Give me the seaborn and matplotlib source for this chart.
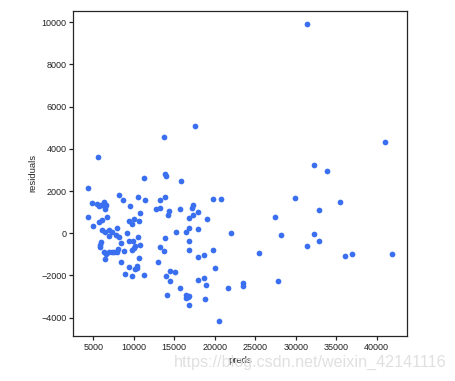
import pandas as pd
import matplotlib
matplotlib.use("Agg")
import matplotlib.pyplot as plt
import seaborn as sns

# predictions (x) and residuals (y)
preds = [
    4380, 5620, 11300, 13770, 13800, 14010, 15870, 17600, 19820, 20800,
    4880, 5490, 5700, 5990, 6280, 6570, 6410, 6480, 8210, 8700,
    9570, 10560, 11420, 12780, 13270, 13270, 13860, 14310, 14170, 10800,
    15740, 17300, 17230, 17960, 17350, 16850, 19030, 4380, 5000, 5740,
    6110, 6730, 6070, 6440, 6940, 7350, 7960, 6980, 7840, 8170,
    9200, 9450, 10060, 9780, 10680, 10560, 9450, 9940, 8460, 5990,
    5870, 5870, 13820, 16830, 17960, 15250, 16490, 21990, 16860, 16860,
    13770, 13270, 17970, 18710, 19820, 20070, 14510, 15130, 14020, 14510,
    17970, 18710, 18950, 15750, 21610, 23490, 23490, 14140, 16450, 16700,
    16860, 16450, 18830, 16860, 20560, 10810, 6320, 6530, 6980, 7270,
    7590, 7890, 8090, 6480, 8830, 9820, 10060, 10190, 10680, 8460,
    9450, 10190, 10350, 10430, 8950, 9820, 11300, 12980, 31430, 41060,
    32290, 33900, 29950, 35470, 32910, 27480, 28220, 32290, 32910, 31430,
    25500, 36120, 36990, 41930, 27850,
]
residuals = [
    2130, 3600, 2610, 4560, 2800, 2720, 2470, 5070, 1610, 1610,
    1420, 1370, 1290, 1360, 1470, 1360, 1260, 1140, 1800, 1560,
    1280, 1710, 1560, 1140, 1180, 1560, 1710, 1050, 850, 950,
    1140, 1340, 1180, 1000, 850, 710, 660, 760, 330, 520,
    610, 760, 140, 60, 170, 80, 240, -130, -80, -160,
    10, 570, 680, 430, 570, -190, -370, -370, -470, -410,
    -540, -660, -240, 230, 190, 50, 50, 0, -380, -810,
    -850, -660, -1140, -1040, -810, -1660, -1800, -1850, -2040, -2270,
    -2230, -2130, -2460, -2570, -2610, -2370, -2500, -2940, -2940, -3000,
    -2970, -3050, -3130, -3410, -4170, -570, -900, -990, -870, -900,
    -900, -900, -760, -1230, -850, -810, -710, -600, -1190, -1370,
    -1610, -1710, -1640, -1570, -1940, -2040, -1990, -1370, 9900, 4310,
    3220, 2940, 1660, 1470, 1090, 760, -100, -50, -380, -620,
    -950, -1090, -1000, -1000, -2280,
]

df = pd.DataFrame({"preds": preds, "residuals": residuals})

sns.set_style("ticks")
plt.rcParams["font.family"] = ["Liberation Sans", "DejaVu Sans"]
plt.rcParams["axes.linewidth"] = 0.9
plt.rcParams["xtick.major.width"] = 0.9
plt.rcParams["ytick.major.width"] = 0.9
plt.rcParams["xtick.major.size"] = 2.6
plt.rcParams["ytick.major.size"] = 2.6

fig = plt.figure(figsize=(4.56, 3.81), dpi=100)
ax = fig.add_axes([0.161, 0.118, 0.732, 0.854])

sns.scatterplot(data=df, x="preds", y="residuals", color="#3a6ff0",
                s=17, linewidth=0, ax=ax)

ax.set_xlim(2530, 43780)
ax.set_ylim(-4870, 10550)
ax.set_xticks([5000, 10000, 15000, 20000, 25000, 30000, 35000, 40000])
ax.set_yticks([-4000, -2000, 0, 2000, 4000, 6000, 8000, 10000])
ax.tick_params(labelsize=6.5, pad=2.5, colors="#222222")
ax.set_xlabel("preds", fontsize=6.8, labelpad=3)
ax.set_ylabel("residuals", fontsize=6.8, labelpad=3)

# blog watermark
fig.text(0.98, 0.048, "https://blog.csdn.net/weixin_42141116", ha="right",
         va="center", fontsize=11.6, color="#e0e0e0")

fig.savefig("out.png", dpi=100)
